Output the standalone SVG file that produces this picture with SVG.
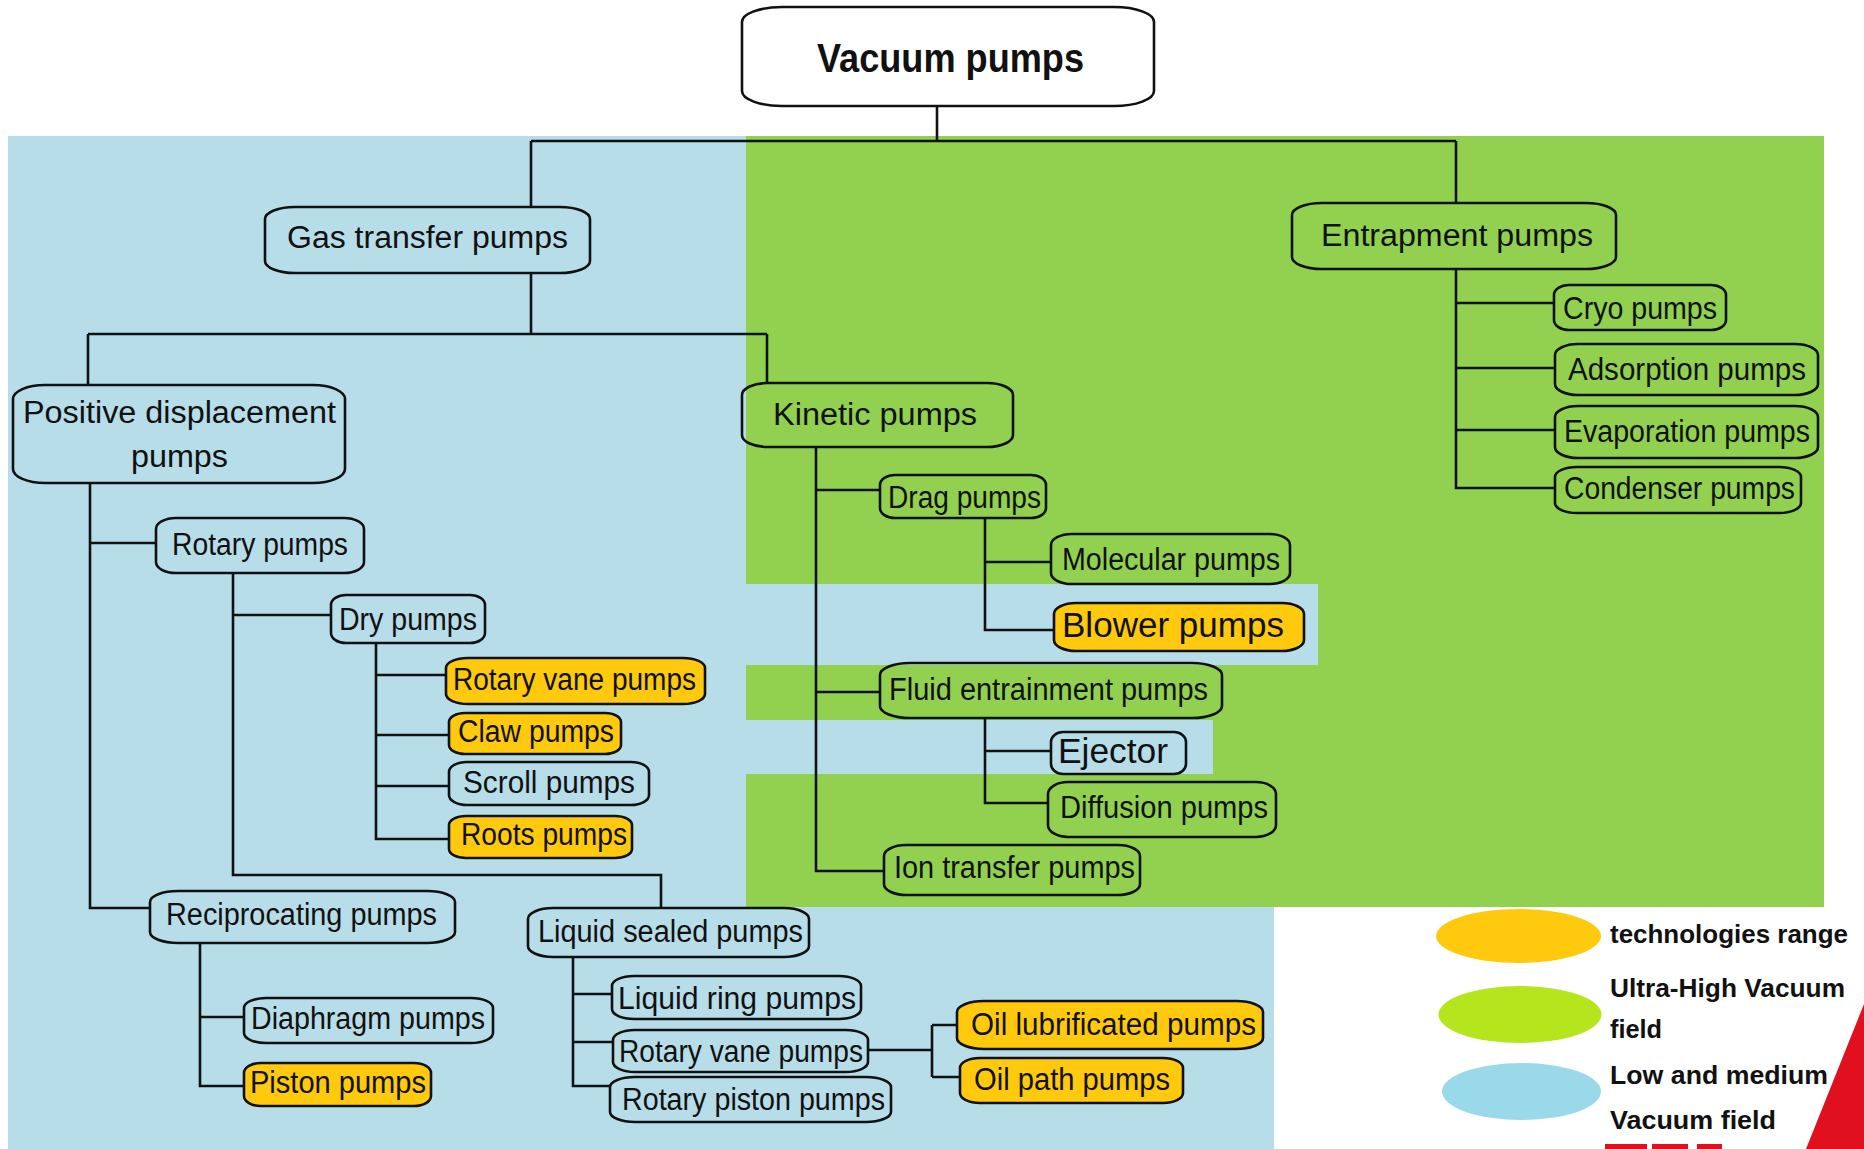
<svg xmlns="http://www.w3.org/2000/svg" width="1864" height="1149" viewBox="0 0 1864 1149">
<style>
.box{fill:none;stroke:#111;stroke-width:2.6}
.or{fill:#ffc90e}
.wh{fill:#fff}
.t{font-family:"Liberation Sans",Arial,sans-serif;font-size:31px;fill:#111}
.big{font-size:35px}
.bold{font-weight:bold;font-size:40px}
.lg{font-family:"Liberation Sans",Arial,sans-serif;font-weight:bold;font-size:25px;fill:#111}
#connectors path{fill:none;stroke:#111;stroke-width:2.6}
</style>
<rect width="1864" height="1149" fill="#fff"/>
<g id="background">
<rect x="8" y="136" width="1266" height="1013" fill="#b7dde8"/>
<rect x="746" y="136" width="1078" height="771" fill="#92d050"/>
<rect x="746" y="584" width="572" height="81" fill="#b7dde8"/>
<rect x="746" y="720" width="467" height="54" fill="#b7dde8"/>
</g>
<g id="connectors">
<path d="M937,106V141M531,141H1456M531,141V207M1456,141V203"/>
<path d="M531,273V334M88,334H767M88,334V385M767,334V383"/>
<path d="M90,483V908H150M90,543H156"/>
<path d="M233,573V875H661V908M233,615H331"/>
<path d="M376,643V839H449M376,675H446M376,735H449M376,786H449"/>
<path d="M200,943V1086H244M200,1017H244"/>
<path d="M573,957V1086H610M573,994H612M573,1042H613"/>
<path d="M868,1050H932M932,1025V1077M932,1025H957M932,1077H960"/>
<path d="M816,447V871H884M816,490H880M816,692H880"/>
<path d="M985,518V630H1054M985,562H1051"/>
<path d="M985,718V803H1048M985,751H1051"/>
<path d="M1456,269V488H1555M1456,303H1554M1456,368H1555M1456,430H1555"/>
</g>
<g id="n-vacuum"><rect class="box wh" x="742" y="7" width="412" height="99" rx="40" ry="15"/><text class="t bold" x="817" y="72" textLength="267" lengthAdjust="spacingAndGlyphs">Vacuum pumps</text></g>
<g id="n-gas"><rect class="box" x="265" y="207" width="325" height="66" rx="30" ry="12"/><text class="t" x="287" y="248" textLength="281" lengthAdjust="spacingAndGlyphs">Gas transfer pumps</text></g>
<g id="n-entrapment"><rect class="box" x="1292" y="203" width="324" height="66" rx="30" ry="12"/><text class="t" x="1321" y="246" textLength="272" lengthAdjust="spacingAndGlyphs">Entrapment pumps</text></g>
<g id="n-posdisp"><rect class="box" x="13" y="385" width="332" height="98" rx="32" ry="14"/><text class="t" x="23" y="423" textLength="313" lengthAdjust="spacingAndGlyphs">Positive displacement</text><text class="t" x="131" y="467" textLength="97" lengthAdjust="spacingAndGlyphs">pumps</text></g>
<g id="n-kinetic"><rect class="box" x="742" y="383" width="271" height="64" rx="26" ry="12"/><text class="t" x="773" y="425" textLength="204" lengthAdjust="spacingAndGlyphs">Kinetic pumps</text></g>
<g id="n-rotary"><rect class="box" x="156" y="518" width="208" height="55" rx="20" ry="11"/><text class="t" x="172" y="555" textLength="176" lengthAdjust="spacingAndGlyphs">Rotary pumps</text></g>
<g id="n-dry"><rect class="box" x="331" y="595" width="154" height="48" rx="15" ry="10"/><text class="t" x="339" y="630" textLength="138" lengthAdjust="spacingAndGlyphs">Dry pumps</text></g>
<g id="n-rvp1"><rect class="box or" x="446" y="658" width="259" height="46" rx="22" ry="10"/><text class="t" x="453" y="690" textLength="243" lengthAdjust="spacingAndGlyphs">Rotary vane pumps</text></g>
<g id="n-claw"><rect class="box or" x="449" y="713" width="172" height="41" rx="16" ry="9"/><text class="t" x="458" y="742" textLength="156" lengthAdjust="spacingAndGlyphs">Claw pumps</text></g>
<g id="n-scroll"><rect class="box" x="449" y="762" width="200" height="43" rx="18" ry="10"/><text class="t" x="463" y="793" textLength="172" lengthAdjust="spacingAndGlyphs">Scroll pumps</text></g>
<g id="n-roots"><rect class="box or" x="449" y="816" width="183" height="42" rx="17" ry="9"/><text class="t" x="461" y="845" textLength="166" lengthAdjust="spacingAndGlyphs">Roots pumps</text></g>
<g id="n-recip"><rect class="box" x="150" y="891" width="305" height="52" rx="28" ry="11"/><text class="t" x="166" y="925" textLength="271" lengthAdjust="spacingAndGlyphs">Reciprocating pumps</text></g>
<g id="n-diaphragm"><rect class="box" x="244" y="998" width="249" height="45" rx="22" ry="10"/><text class="t" x="251" y="1029" textLength="234" lengthAdjust="spacingAndGlyphs">Diaphragm pumps</text></g>
<g id="n-piston"><rect class="box or" x="244" y="1063" width="187" height="43" rx="17" ry="10"/><text class="t" x="250" y="1093" textLength="176" lengthAdjust="spacingAndGlyphs">Piston pumps</text></g>
<g id="n-liqsealed"><rect class="box" x="528" y="908" width="281" height="49" rx="25" ry="11"/><text class="t" x="538" y="942" textLength="265" lengthAdjust="spacingAndGlyphs">Liquid sealed pumps</text></g>
<g id="n-liqring"><rect class="box" x="612" y="976" width="249" height="43" rx="22" ry="10"/><text class="t" x="618" y="1009" textLength="238" lengthAdjust="spacingAndGlyphs">Liquid ring pumps</text></g>
<g id="n-rvp2"><rect class="box" x="613" y="1030" width="255" height="42" rx="22" ry="10"/><text class="t" x="619" y="1062" textLength="244" lengthAdjust="spacingAndGlyphs">Rotary vane pumps</text></g>
<g id="n-rotpiston"><rect class="box" x="610" y="1077" width="281" height="45" rx="25" ry="10"/><text class="t" x="622" y="1110" textLength="263" lengthAdjust="spacingAndGlyphs">Rotary piston pumps</text></g>
<g id="n-oillub"><rect class="box or" x="957" y="1001" width="306" height="48" rx="27" ry="11"/><text class="t" x="971" y="1035" textLength="285" lengthAdjust="spacingAndGlyphs">Oil lubrificated pumps</text></g>
<g id="n-oilpath"><rect class="box or" x="960" y="1058" width="223" height="45" rx="20" ry="10"/><text class="t" x="974" y="1090" textLength="196" lengthAdjust="spacingAndGlyphs">Oil path pumps</text></g>
<g id="n-drag"><rect class="box" x="880" y="475" width="166" height="43" rx="15" ry="10"/><text class="t" x="888" y="508" textLength="153" lengthAdjust="spacingAndGlyphs">Drag pumps</text></g>
<g id="n-molecular"><rect class="box" x="1051" y="534" width="239" height="50" rx="21" ry="11"/><text class="t" x="1062" y="570" textLength="218" lengthAdjust="spacingAndGlyphs">Molecular pumps</text></g>
<g id="n-blower"><rect class="box or" x="1054" y="603" width="250" height="48" rx="22" ry="11"/><text class="t big" x="1062" y="637" textLength="222" lengthAdjust="spacingAndGlyphs">Blower pumps</text></g>
<g id="n-fluid"><rect class="box" x="880" y="663" width="342" height="55" rx="30" ry="12"/><text class="t" x="889" y="700" textLength="319" lengthAdjust="spacingAndGlyphs">Fluid entrainment pumps</text></g>
<g id="n-ejector"><rect class="box" x="1051" y="732" width="135" height="42" rx="12" ry="10"/><text class="t big" x="1058" y="763" textLength="110" lengthAdjust="spacingAndGlyphs">Ejector</text></g>
<g id="n-diffusion"><rect class="box" x="1048" y="782" width="228" height="55" rx="20" ry="12"/><text class="t" x="1060" y="818" textLength="208" lengthAdjust="spacingAndGlyphs">Diffusion pumps</text></g>
<g id="n-ion"><rect class="box" x="884" y="845" width="256" height="50" rx="22" ry="11"/><text class="t" x="894" y="878" textLength="241" lengthAdjust="spacingAndGlyphs">Ion transfer pumps</text></g>
<g id="n-cryo"><rect class="box" x="1554" y="285" width="172" height="45" rx="15" ry="10"/><text class="t" x="1563" y="319" textLength="154" lengthAdjust="spacingAndGlyphs">Cryo pumps</text></g>
<g id="n-adsorption"><rect class="box" x="1555" y="344" width="263" height="51" rx="23" ry="11"/><text class="t" x="1568" y="380" textLength="238" lengthAdjust="spacingAndGlyphs">Adsorption pumps</text></g>
<g id="n-evaporation"><rect class="box" x="1555" y="406" width="263" height="52" rx="23" ry="11"/><text class="t" x="1564" y="442" textLength="246" lengthAdjust="spacingAndGlyphs">Evaporation pumps</text></g>
<g id="n-condenser"><rect class="box" x="1555" y="467" width="246" height="46" rx="22" ry="10"/><text class="t" x="1564" y="499" textLength="231" lengthAdjust="spacingAndGlyphs">Condenser pumps</text></g>
<g id="legend">
<ellipse cx="1518.5" cy="936" rx="82.5" ry="27" fill="#ffc90e"/>
<ellipse cx="1520" cy="1014.5" rx="81.5" ry="28.5" fill="#b5e61d"/>
<ellipse cx="1521.5" cy="1091.5" rx="79.5" ry="28.5" fill="#99d9ea"/>
<text class="lg" x="1610" y="943" textLength="238" lengthAdjust="spacingAndGlyphs">technologies range</text>
<text class="lg" x="1610" y="997" textLength="235" lengthAdjust="spacingAndGlyphs">Ultra-High Vacuum</text>
<text class="lg" x="1610" y="1038" textLength="52" lengthAdjust="spacingAndGlyphs">field</text>
<text class="lg" x="1610" y="1084" textLength="218" lengthAdjust="spacingAndGlyphs">Low and medium</text>
<text class="lg" x="1610" y="1129" textLength="166" lengthAdjust="spacingAndGlyphs">Vacuum field</text>
</g>
<g id="logo-fragment" fill="#e0101f">
<polygon points="1864,1004 1864,1149 1806,1149"/>
<rect x="1605" y="1144" width="42" height="5"/>
<rect x="1652" y="1144" width="36" height="5"/>
<rect x="1697" y="1144" width="25" height="5"/>
</g>
</svg>
